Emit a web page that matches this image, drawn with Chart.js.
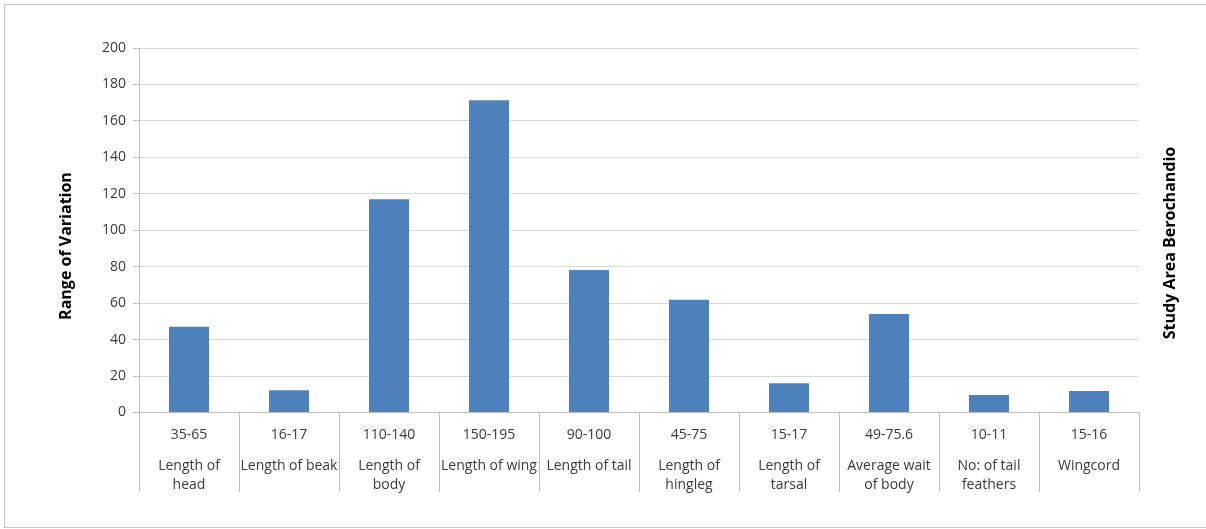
<!DOCTYPE html>
<html>
<head>
<meta charset="utf-8">
<script src="https://cdn.jsdelivr.net/npm/chart.js@4/dist/chart.umd.min.js"></script>
<style>
    body { margin: 0; background: #fff; }
    #wrap { position: relative; width: 1206px; height: 529px; overflow: hidden; }
    #frame { position: absolute; left: 4px; top: 4px; width: 1220px; height: 522px; border: 1px solid #c4c4c4; }
    canvas { position: absolute; left: 0; top: 0; }
</style>
</head>
<body>
<div id="wrap">
    <div id="frame"></div>
    <canvas id="chart" width="1206" height="529"></canvas>
</div>
<script>
// ranges shown in the first row of the category axis
const ranges = ['35-65', '16-17', '110-140', '150-195', '90-100', '45-75', '15-17', '49-75.6', '10-11', '15-16'];

// measurement names (second row), already split the way the picture wraps them
const names = [
    ['Length of', 'head'],
    ['Length of beak'],
    ['Length of', 'body'],
    ['Length of wing'],
    ['Length of tail'],
    ['Length of', 'hingleg'],
    ['Length of', 'tarsal'],
    ['Average wait', 'of body'],
    ['No: of tail', 'feathers'],
    ['Wingcord']
];

// range of variation
const values = [47, 12.2, 117, 171.3, 78.2, 61.8, 16, 54, 9.6, 11.8];

const yTicks = { min: 0, max: 200, step: 20 };

const leftTitle = 'Range of Variation';
const rightTitle = 'Study Area Berochandio';

const fontFamily = "'Open Sans', 'Noto Sans', sans-serif";

// separators of the two-row category axis and the two axis titles
const extrasPlugin = {
    id: 'extras',
    afterDraw(chart) {
        const ctx = chart.ctx;
        const area = chart.chartArea;
        const n = ranges.length;
        const step = (area.right - area.left) / n;

        ctx.save();
        ctx.strokeStyle = '#bfbfbf';
        ctx.lineWidth = 1;
        for (let i = 0; i <= n; i++) {
            let x = Math.round(area.left + i * step) + 0.5;
            ctx.beginPath();
            ctx.moveTo(x, area.bottom);
            ctx.lineTo(x, 492);
            ctx.stroke();
        }

        ctx.fillStyle = '#000';
        ctx.font = "bold 16px " + fontFamily;
        ctx.textAlign = 'center';
        ctx.textBaseline = 'middle';

        ctx.translate(66, 246);
        ctx.rotate(-Math.PI / 2);
        ctx.fillText(leftTitle, 0, 0);
        ctx.restore();

        ctx.save();
        ctx.fillStyle = '#000';
        ctx.font = "bold 16px " + fontFamily;
        ctx.textAlign = 'center';
        ctx.textBaseline = 'middle';
        ctx.translate(1170, 243);
        ctx.rotate(-Math.PI / 2);
        ctx.fillText(rightTitle, 0, 0);
        ctx.restore();
    }
};

let canvas = document.getElementById('chart').getContext('2d');

new Chart(canvas, {
    type: 'bar',
    data: {
        labels: ranges,
        datasets: [{
            data: values,
            backgroundColor: '#4f81bd',
            borderWidth: 0,
            categoryPercentage: 1,
            barPercentage: 0.4
        }]
    },
    plugins: [extrasPlugin],
    options: {
        responsive: false,
        animation: false,
        layout: {
            padding: { left: 0, top: 48, right: 67, bottom: 0 }
        },
        plugins: {
            legend: { display: false },
            tooltip: { enabled: false }
        },
        scales: {
            x: {
                weight: 1,
                position: 'bottom',
                grid: { display: false },
                border: { display: true, color: '#bfbfbf' },
                ticks: {
                    color: '#3a3a3a',
                    padding: 6,
                    autoSkip: false,
                    maxRotation: 0,
                    font: { family: fontFamily, size: 14 }
                },
                afterFit(scale) { scale.height = 36; }
            },
            x2: {
                type: 'category',
                labels: names,
                weight: 2,
                position: 'bottom',
                grid: { display: false },
                border: { display: false },
                ticks: {
                    color: '#3a3a3a',
                    padding: 0,
                    autoSkip: false,
                    maxRotation: 0,
                    font: { family: fontFamily, size: 14, lineHeight: '19px' }
                },
                afterFit(scale) { scale.height = 80.5; }
            },
            y: {
                min: yTicks.min,
                max: yTicks.max,
                grid: { color: '#d9d9d9', tickLength: 6, tickColor: '#bfbfbf' },
                border: { display: true, color: '#bfbfbf' },
                ticks: {
                    stepSize: yTicks.step,
                    color: '#3a3a3a',
                    padding: 7,
                    font: { family: fontFamily, size: 14 }
                },
                afterFit(scale) { scale.width = 139; }
            }
        }
    }
});
</script>
</body>
</html>
